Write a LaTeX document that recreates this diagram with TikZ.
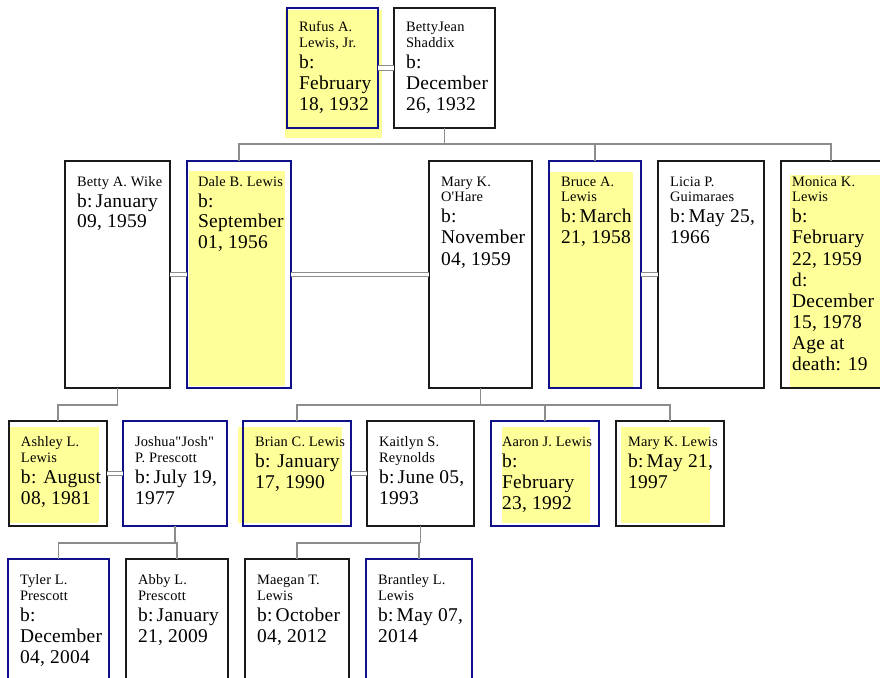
\documentclass[tikz,border=0pt]{standalone}
\usepackage{fontspec}
\setmainfont{Liberation Serif}[Ligatures=TeXOff, LetterSpace=1.5]
\newcommand\nf{\fontsize{10.8pt}{12pt}\selectfont}
\newcommand\df{\fontsize{14.6pt}{15.75pt}\selectfont}
\newcommand\ptxt[2]{\vtop{\lineskiplimit=-100pt\nf #1\df #2}}
\definecolor{pyellow}{HTML}{FFFF99}
\definecolor{navyb}{HTML}{10108A}
\definecolor{cgray}{HTML}{8C8C8C}
\definecolor{bk}{HTML}{1A1A1A}
\tikzset{
  pbox/.style={draw=bk, line width=1pt, inner sep=0pt, outer sep=0pt, anchor=north west},
  mbox/.style={pbox, draw=navyb},
  hl/.style={fill=pyellow},
  conn/.style={draw=cgray, line width=1.1pt},
  marr/.style={draw=cgray, line width=0.9pt, double=white, double distance=2.4pt},
  ptext/.style={anchor=base west, inner sep=0pt, outer sep=0pt},
}
\begin{document}
\begin{tikzpicture}[x=0.75pt, y=-0.75pt]
\useasboundingbox (0,0) rectangle (880,677);
\clip (0,0) rectangle (880,677);
\fill[white] (0,0) rectangle (880,677);
% highlights
\fill[hl] (285,10) rectangle (382,138);
\fill[hl] (189,171) rectangle (285,386);
\fill[hl] (549,172) rectangle (633,388);
\fill[hl] (790,175) rectangle (885,389);
\fill[hl] (10,427) rectangle (99,523);
\fill[hl] (238,427) rectangle (342,523);
\fill[hl] (502,427) rectangle (590,523);
\fill[hl] (621,427) rectangle (710,523);
% boxes
\node[mbox, minimum width=68.25pt, minimum height=90pt] (rufus) at (287,8) {};
\node[pbox, minimum width=75.75pt, minimum height=90pt] (bettyjean) at (394,8) {};
\node[pbox, minimum width=78.75pt, minimum height=170.25pt] (bettywike) at (65,161) {};
\node[mbox, minimum width=78pt, minimum height=170.25pt] (dale) at (187,161) {};
\node[pbox, minimum width=77.25pt, minimum height=170.25pt] (mary) at (429,161) {};
\node[mbox, minimum width=69pt, minimum height=170.25pt] (bruce) at (549,161) {};
\node[pbox, minimum width=79.5pt, minimum height=170.25pt] (licia) at (658,161) {};
\node[pbox, minimum width=75pt, minimum height=170.25pt] (monica) at (781,161) {};
\node[pbox, minimum width=73.5pt, minimum height=78.75pt] (ashley) at (9,421) {};
\node[mbox, minimum width=78pt, minimum height=78.75pt] (joshua) at (123,421) {};
\node[mbox, minimum width=81pt, minimum height=78.75pt] (brian) at (243,421) {};
\node[pbox, minimum width=80.25pt, minimum height=78.75pt] (kaitlyn) at (367,421) {};
\node[mbox, minimum width=81pt, minimum height=78.75pt] (aaron) at (491,421) {};
\node[pbox, minimum width=81pt, minimum height=78.75pt] (maryk) at (616,421) {};
\node[mbox, minimum width=75.75pt, minimum height=105.75pt] (tyler) at (8,559) {};
\node[pbox, minimum width=76.5pt, minimum height=105.75pt] (abby) at (126,559) {};
\node[pbox, minimum width=78pt, minimum height=105.75pt] (maegan) at (245,559) {};
\node[mbox, minimum width=79.5pt, minimum height=105.75pt] (brantley) at (366,559) {};
% texts
\node[ptext] (rufus-t) at ([shift={(12,24)}]rufus.north west) {\ptxt{\hbox{Rufus A.}\hbox{Lewis, Jr.}}{\hbox{b:}\hbox{February}\hbox{18, 1932}}};
\node[ptext] (bettyjean-t) at ([shift={(12,24)}]bettyjean.north west) {\ptxt{\hbox{BettyJean}\hbox{Shaddix}}{\hbox{b:}\hbox{December}\hbox{26, 1932}}};
\node[ptext] (bettywike-t) at ([shift={(12,25)}]bettywike.north west) {\ptxt{\hbox{Betty A. Wike}}{\hbox{b:\,January}\hbox{09, 1959}}};
\node[ptext] (dale-t) at ([shift={(11,25)}]dale.north west) {\ptxt{\hbox{Dale B. Lewis}}{\hbox{b:}\hbox{September}\hbox{01, 1956}}};
\node[ptext] (mary-t) at ([shift={(12,25)}]mary.north west) {\ptxt{\hbox{Mary K.}\hbox{O'Hare}}{\hbox{b:}\hbox{November}\hbox{04, 1959}}};
\node[ptext] (bruce-t) at ([shift={(12,25)}]bruce.north west) {\ptxt{\hbox{Bruce A.}\hbox{Lewis}}{\hbox{b:\,March}\hbox{21, 1958}}};
\node[ptext] (licia-t) at ([shift={(12,25)}]licia.north west) {\ptxt{\hbox{Licia P.}\hbox{Guimaraes}}{\hbox{b:\,May 25,}\hbox{1966}}};
\node[ptext] (monica-t) at ([shift={(11,25)}]monica.north west) {\ptxt{\hbox{Monica K.}\hbox{Lewis}}{\hbox{b:}\hbox{February}\hbox{22, 1959}\hbox{d:}\hbox{December}\hbox{15, 1978}\hbox{Age at}\hbox{death: 19}}};
\node[ptext] (ashley-t) at ([shift={(12,25)}]ashley.north west) {\ptxt{\hbox{Ashley L.}\hbox{Lewis}}{\hbox{b: August}\hbox{08, 1981}}};
\node[ptext] (joshua-t) at ([shift={(12,25)}]joshua.north west) {\ptxt{\hbox{Joshua"Josh"}\hbox{P. Prescott}}{\hbox{b:\,July 19,}\hbox{1977}}};
\node[ptext] (brian-t) at ([shift={(12,25)}]brian.north west) {\ptxt{\hbox{Brian C. Lewis}}{\hbox{b: January}\hbox{17, 1990}}};
\node[ptext] (kaitlyn-t) at ([shift={(12,25)}]kaitlyn.north west) {\ptxt{\hbox{Kaitlyn S.}\hbox{Reynolds}}{\hbox{b:\,June 05,}\hbox{1993}}};
\node[ptext] (aaron-t) at ([shift={(11,25)}]aaron.north west) {\ptxt{\hbox{Aaron J. Lewis}}{\hbox{b:}\hbox{February}\hbox{23, 1992}}};
\node[ptext] (maryk-t) at ([shift={(12,25)}]maryk.north west) {\ptxt{\hbox{Mary K. Lewis}}{\hbox{b:\,May 21,}\hbox{1997}}};
\node[ptext] (tyler-t) at ([shift={(12,25)}]tyler.north west) {\ptxt{\hbox{Tyler L.}\hbox{Prescott}}{\hbox{b:}\hbox{December}\hbox{04, 2004}}};
\node[ptext] (abby-t) at ([shift={(12,25)}]abby.north west) {\ptxt{\hbox{Abby L.}\hbox{Prescott}}{\hbox{b:\,January}\hbox{21, 2009}}};
\node[ptext] (maegan-t) at ([shift={(12,25)}]maegan.north west) {\ptxt{\hbox{Maegan T.}\hbox{Lewis}}{\hbox{b:\,October}\hbox{04, 2012}}};
\node[ptext] (brantley-t) at ([shift={(12,25)}]brantley.north west) {\ptxt{\hbox{Brantley L.}\hbox{Lewis}}{\hbox{b:\,May 07,}\hbox{2014}}};
% marriage lines
\draw[marr] (rufus.east) -- (bettyjean.west);
\draw[marr] (bettywike.east) -- (dale.west);
\draw[marr] (dale.east) -- (mary.west);
\draw[marr] (bruce.east) -- (licia.west);
\draw[marr] (ashley.east) -- (joshua.west);
\draw[marr] (brian.east) -- (kaitlyn.west);
% descent lines
\coordinate (bar1) at (0,144);
\coordinate (bar2) at (0,405);
\coordinate (bar3) at (0,543);
\draw[conn] (bettyjean.south) -- (bettyjean.south |- bar1);
\draw[conn] (dale.north) |- (monica.north |- bar1) -- (monica.north);
\draw[conn] (bruce.north) -- (bruce.north |- bar1);
\draw[conn] (bettywike.south) |- (ashley.north |- bar2) -- (ashley.north);
\draw[conn] (mary.south) -- (mary.south |- bar2);
\draw[conn] (brian.north) |- (maryk.north |- bar2) -- (maryk.north);
\draw[conn] (aaron.north) -- (aaron.north |- bar2);
\draw[conn] (joshua.south) -- (joshua.south |- bar3);
\draw[conn] (tyler.north) |- (abby.north |- bar3) -- (abby.north);
\draw[conn] (kaitlyn.south) -- (kaitlyn.south |- bar3);
\draw[conn] (maegan.north) |- (brantley.north |- bar3) -- (brantley.north);
\end{tikzpicture}
\end{document}
